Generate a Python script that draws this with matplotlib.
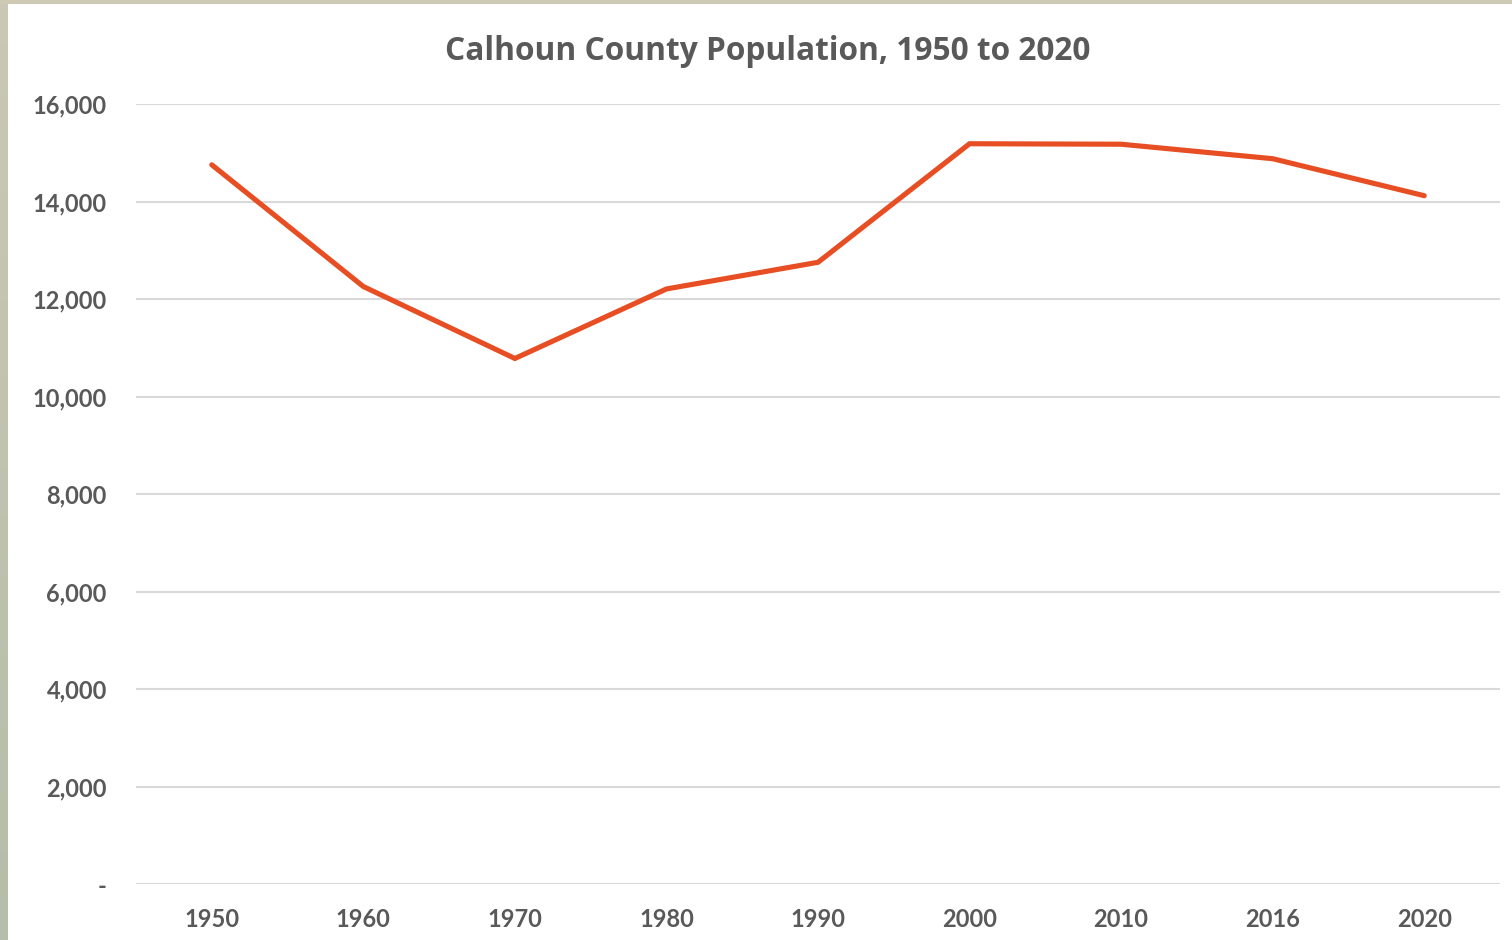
import matplotlib
matplotlib.use("Agg")
import matplotlib.pyplot as plt
import numpy as np
from matplotlib.ticker import FuncFormatter

years = ["1950", "1960", "1970", "1980", "1990", "2000", "2010", "2016", "2020"]
population = [14753, 12256, 10780, 12206, 12753, 15185, 15175, 14878, 14119]
y_ticks = [0, 2000, 4000, 6000, 8000, 10000, 12000, 14000, 16000]
title = "Calhoun County Population, 1950 to 2020"

W, H = 1512, 940
fig = plt.figure(figsize=(W / 100, H / 100), dpi=100)
fig.patch.set_facecolor("white")

# decorative frame strips (left and top)
left = fig.add_axes([0, 0, 8 / W, 1])
grad = np.linspace(0, 1, 256).reshape(-1, 1)
c_top = np.array([0xCB, 0xC8, 0xB5]) / 255
c_bot = np.array([0xB5, 0xBE, 0xA8]) / 255
img = c_top[None, None, :] * (1 - grad[:, :, None]) + c_bot[None, None, :] * grad[:, :, None]
left.imshow(img, aspect="auto", extent=[0, 1, 0, 1])
left.axis("off")
top = fig.add_axes([0, 1 - 4 / H, 1, 4 / H])
top.set_facecolor("#CDC9B5")
top.set_xticks([]); top.set_yticks([])
for s in top.spines.values():
    s.set_visible(False)

x0, x1 = 136, 1500
y0, y1 = 884, 104
ax = fig.add_axes([x0 / W, 1 - y0 / H, (x1 - x0) / W, (y0 - y1) / H])
x = np.arange(len(years))
ax.plot(x, population, color="#E84E23", lw=3.7, solid_capstyle="round", solid_joinstyle="miter", zorder=3)
ax.set_xlim(-0.5, len(years) - 0.5)
ax.set_ylim(0, 16000)
ax.set_xticks(x)
ax.set_xticklabels(years)
ax.set_yticks(y_ticks)
ax.yaxis.set_major_formatter(FuncFormatter(lambda v, p: "-" if v == 0 else f"{int(v):,}"))
ax.grid(axis="y", color="#D9D9D9", lw=1.5, zorder=0)
ax.set_axisbelow(True)
for s in ax.spines.values():
    s.set_visible(False)
ax.tick_params(axis="both", length=0, labelsize=17, labelcolor="#595959")
ax.tick_params(axis="y", pad=21)
ax.tick_params(axis="x", pad=17)
for lab in ax.get_xticklabels() + ax.get_yticklabels():
    lab.set_fontfamily("Lato")
    lab.set_fontweight("bold")

fig.text(768 / W, 1 - 52 / H, title, ha="center", va="center", fontsize=22.8,
         fontweight="bold", color="#595959", family="Open Sans")

fig.savefig("out.png", dpi=100, facecolor="white")
